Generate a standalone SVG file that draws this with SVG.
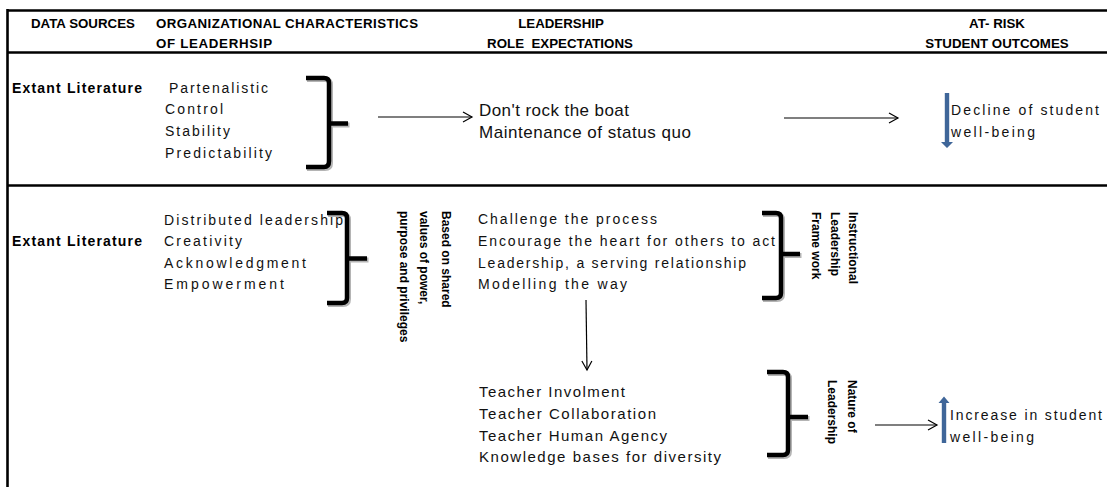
<svg xmlns="http://www.w3.org/2000/svg" width="1107" height="487" viewBox="0 0 1107 487">
<defs>
<style>
.hd{font-family:"Liberation Sans",Arial,sans-serif;font-weight:bold;font-size:13.3px;fill:#000}
.lbl{font-family:"Liberation Sans",Arial,sans-serif;font-weight:bold;font-size:14px;fill:#000}
.tx{font-family:"Liberation Sans",Arial,sans-serif;font-size:14px;fill:#111}
.cn{font-family:"Liberation Sans",Arial,sans-serif;font-size:17px;fill:#111}
.tc{font-family:"Liberation Sans",Arial,sans-serif;font-size:15px;fill:#111}
.rot{font-family:"Liberation Sans",Arial,sans-serif;font-weight:bold;font-size:12px;fill:#000}
.frame{stroke:#000;stroke-width:2.6;fill:none}
.br{stroke:#000;stroke-width:4.5;fill:none;stroke-linecap:butt}
.brs{stroke:#b4b4b4;stroke-width:5;fill:none}
.ar{stroke:#000;stroke-width:1.2;fill:none}
.blue{fill:#3f6699}
</style>
<marker id="open" markerUnits="userSpaceOnUse" markerWidth="12" markerHeight="12" refX="9" refY="5" orient="auto" overflow="visible">
<path d="M0,0 L9,5 L0,10" fill="none" stroke="#000" stroke-width="1.2"/>
</marker>
</defs>

<g id="frame">
<line class="frame" x1="7" y1="10.5" x2="1107" y2="10.5"/>
<line class="frame" x1="7" y1="52.5" x2="1107" y2="52.5"/>
<line class="frame" x1="7" y1="185.5" x2="1107" y2="185.5"/>
<line class="frame" x1="7.5" y1="9" x2="7.5" y2="487"/>
</g>

<g id="header">
<text class="hd" x="31" y="27.5">DATA SOURCES</text>
<text class="hd" x="156" y="27.5" textLength="262" lengthAdjust="spacing">ORGANIZATIONAL CHARACTERISTICS</text>
<text class="hd" x="156" y="47.5" textLength="116" lengthAdjust="spacing">OF LEADERHSIP</text>
<text class="hd" x="561" y="27.5" text-anchor="middle">LEADERSHIP</text>
<text class="hd" x="560" y="47.5" text-anchor="middle" xml:space="preserve">ROLE  EXPECTATIONS</text>
<text class="hd" x="997" y="27.5" text-anchor="middle">AT- RISK</text>
<text class="hd" x="997" y="47.5" text-anchor="middle">STUDENT OUTCOMES</text>
</g>

<g id="row1-source">
<text class="lbl" x="12" y="93" textLength="130" lengthAdjust="spacing">Extant Literature</text>
</g>
<g id="row1-characteristics">
<text class="tx" x="169" y="93" textLength="99" lengthAdjust="spacing">Partenalistic</text>
<text class="tx" x="165" y="114" textLength="58" lengthAdjust="spacing">Control</text>
<text class="tx" x="165" y="136" textLength="65" lengthAdjust="spacing">Stability</text>
<text class="tx" x="165" y="157.5" textLength="107" lengthAdjust="spacing">Predictability</text>
</g>
<g id="bracket1">
<path class="brs" d="M307,79.5 L325,79.5 Q330.5,79.5 330.5,85 L330.5,163 Q330.5,168.5 325,168.5 L307,168.5 M330.5,125 L349.5,125"/>
<path class="br" d="M306,78 L324,78 Q329,78 329,83 L329,161 Q329,167 324,167 L306,167 M329,123.5 L348,123.5"/>
</g>
<g id="row1-expectations">
<text class="cn" x="479" y="116" textLength="150" lengthAdjust="spacing">Don't rock the boat</text>
<text class="cn" x="479" y="138" textLength="212" lengthAdjust="spacing">Maintenance of status quo</text>
</g>
<g id="row1-outcome">
<path class="blue" d="M944.8,93 L949.2,93 L949.2,142 L953,142 L947,148 L941,142 L944.8,142 Z"/>
<text class="tx" x="951" y="115" textLength="148" lengthAdjust="spacing">Decline of student</text>
<text class="tx" x="951" y="137" textLength="84" lengthAdjust="spacing">well-being</text>
</g>

<g id="row2-source">
<text class="lbl" x="12" y="245.5" textLength="130" lengthAdjust="spacing">Extant Literature</text>
</g>
<g id="row2-characteristics">
<text class="tx" x="164" y="225" textLength="179" lengthAdjust="spacing">Distributed leadership</text>
<text class="tx" x="164" y="246" textLength="78" lengthAdjust="spacing">Creativity</text>
<text class="tx" x="164" y="267.5" textLength="142" lengthAdjust="spacing">Acknowledgment</text>
<text class="tx" x="164" y="289" textLength="120" lengthAdjust="spacing">Empowerment</text>
</g>
<g id="bracket2">
<path class="brs" d="M328,214.5 L343,214.5 Q348.5,214.5 348.5,220 L348.5,299 Q348.5,304.5 343,304.5 L328,304.5 M348.5,260 L368.5,260"/>
<path class="br" d="M327,213 L342,213 Q347,213 347,218 L347,298 Q347,303 342,303 L327,303 M347,258.5 L367,258.5"/>
</g>
<g id="label-shared-values">
<text class="rot" transform="translate(442,211) rotate(90)">Based on shared</text>
<text class="rot" transform="translate(420,211) rotate(90)">values of power,</text>
<text class="rot" transform="translate(400,211) rotate(90)">purpose and privileges</text>
</g>
<g id="row2-expectations">
<text class="tx" x="478" y="224" textLength="179" lengthAdjust="spacing">Challenge the process</text>
<text class="tx" x="478" y="246" textLength="297" lengthAdjust="spacing">Encourage the heart for others to act</text>
<text class="tx" x="478" y="267.5" textLength="268" lengthAdjust="spacing">Leadership, a serving relationship</text>
<text class="tx" x="478" y="289" textLength="149" lengthAdjust="spacing">Modelling the way</text>
</g>
<g id="bracket3">
<path class="brs" d="M763,214.5 L777,214.5 Q782.5,214.5 782.5,220 L782.5,294 Q782.5,299.5 777,299.5 L763,299.5 M782.5,255.5 L801.5,255.5"/>
<path class="br" d="M762,213 L776,213 Q781,213 781,218 L781,293 Q781,298 776,298 L762,298 M781,254 L800,254"/>
</g>
<g id="label-instructional">
<text class="rot" transform="translate(849,212) rotate(90)">Instructional</text>
<text class="rot" transform="translate(831,212) rotate(90)">Leadership</text>
<text class="rot" transform="translate(812,212) rotate(90)">Frame work</text>
</g>
<g id="row3-expectations">
<text class="tc" x="479" y="397" textLength="146" lengthAdjust="spacing">Teacher Involment</text>
<text class="tc" x="479" y="419" textLength="177" lengthAdjust="spacing">Teacher Collaboration</text>
<text class="tc" x="479" y="441" textLength="188" lengthAdjust="spacing">Teacher Human Agency</text>
<text class="tc" x="479" y="462" textLength="242" lengthAdjust="spacing">Knowledge bases for diversity</text>
</g>
<g id="bracket4">
<path class="brs" d="M768,373.5 L784,373.5 Q789.5,373.5 789.5,379 L789.5,451 Q789.5,456.5 784,456.5 L768,456.5 M789.5,418.5 L809.5,418.5"/>
<path class="br" d="M767,372 L783,372 Q788,372 788,377 L788,450 Q788,455 783,455 L767,455 M788,417 L808,417"/>
</g>
<g id="label-nature">
<text class="rot" transform="translate(848,380) rotate(90)">Nature of</text>
<text class="rot" transform="translate(828,380) rotate(90)">Leadership</text>
</g>
<g id="row3-outcome">
<path class="blue" d="M941.8,443 L946.2,443 L946.2,403 L949.5,403 L944,396.5 L938.5,403 L941.8,403 Z"/>
<text class="tx" x="950" y="420" textLength="152" lengthAdjust="spacing">Increase in student</text>
<text class="tx" x="950" y="442" textLength="84" lengthAdjust="spacing">well-being</text>
</g>

<g id="connectors">
<line class="ar" x1="378" y1="117" x2="472" y2="117" marker-end="url(#open)"/>
<line class="ar" x1="784" y1="118" x2="898" y2="118" marker-end="url(#open)"/>
<line class="ar" x1="586" y1="300" x2="587" y2="370" marker-end="url(#open)"/>
<line class="ar" x1="875" y1="425" x2="937" y2="425" marker-end="url(#open)"/>
</g>
</svg>
